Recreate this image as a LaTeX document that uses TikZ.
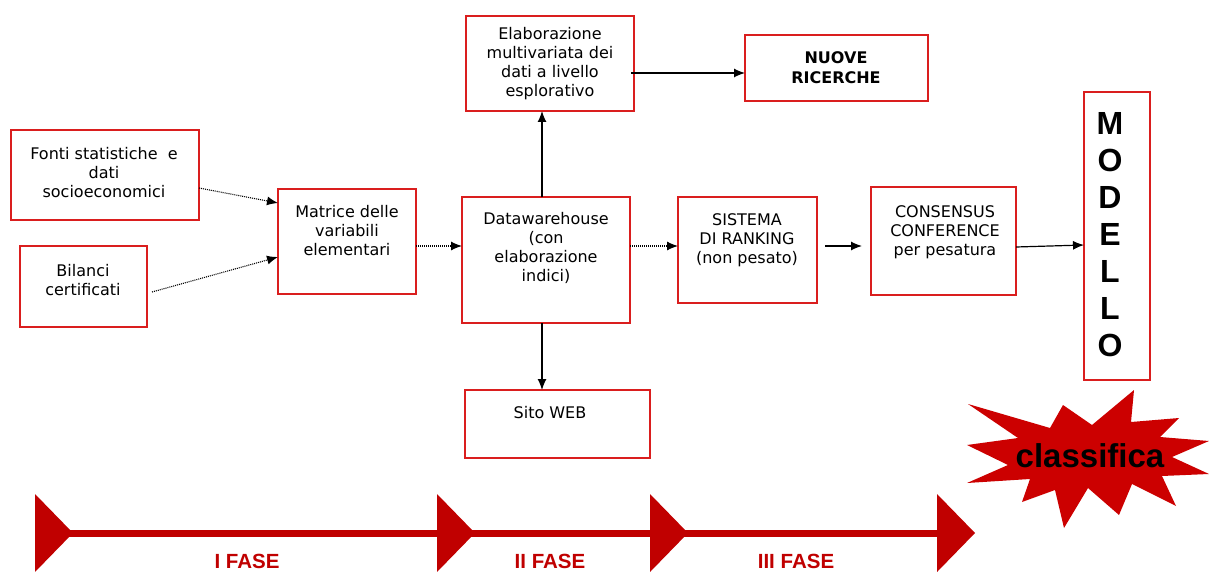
\documentclass[tikz,border=0pt]{standalone}
\usepackage{fontspec}
\setmainfont{DejaVu Sans}
\newfontfamily\arialfont{Liberation Sans}
\usetikzlibrary{arrows.meta}
\definecolor{boxred}{RGB}{218,30,30}
\definecolor{tred}{RGB}{192,0,0}
\definecolor{sred}{RGB}{204,0,0}
\begin{document}
\begin{tikzpicture}[x=1pt,y=-1pt,
  box/.style={draw=boxred,line width=1.3pt,inner sep=0pt,outer sep=0pt},
  txt/.style={inner sep=0pt,align=center,font=\fontsize{16}{19}\selectfont},
  btxt/.style={inner sep=0pt,align=center,font=\fontsize{16}{20}\selectfont\bfseries},
  conn/.style={line width=1.2pt,-{Latex[length=11pt,width=9pt]}},
  dconn/.style={line width=1.1pt,dash pattern=on 1pt off 1pt,-{Latex[length=11pt,width=9pt]}},
  phase/.style={anchor=base,inner sep=0pt,text=tred,font=\arialfont\fontsize{20.5}{22}\selectfont\bfseries}]
\useasboundingbox (0,0) rectangle (1209,572);
% boxes
\node[box,minimum width=188pt,minimum height=90pt] (fonti) at (105,175) {};
\node[box,minimum width=127pt,minimum height=81pt] (bilanci) at (83.5,286.5) {};
\node[box,minimum width=138pt,minimum height=105pt] (matrice) at (347,241.5) {};
\node[box,minimum width=168pt,minimum height=126pt] (dw) at (546,260) {};
\node[box,minimum width=168pt,minimum height=95pt] (elab) at (550,63.5) {};
\node[box,minimum width=183pt,minimum height=66pt] (nuove) at (836.5,68) {};
\node[box,minimum width=185pt,minimum height=68pt] (sito) at (557.5,424) {};
\node[box,minimum width=139pt,minimum height=106pt] (sistema) at (747.5,250) {};
\node[box,minimum width=145pt,minimum height=108pt] (consensus) at (943.5,241) {};
\node[box,minimum width=66pt,minimum height=288pt] (modello) at (1117,236) {};
% texts
\node[txt] (fontiT) at (104,173) {Fonti statistiche\ \ e\\dati\\socioeconomici};
\node[txt] (bilanciT) at (83,280) {Bilanci\\certificati};
\node[txt] (matriceT) at (347,231) {Matrice delle\\variabili\\elementari};
\node[txt] (dwT) at (546,247.5) {Datawarehouse\\(con\\elaborazione\\indici)};
\node[txt] (elabT) at (550,64) {Elaborazione\\multivariata dei\\dati a livello\\esplorativo};
\node[btxt] (nuoveT) at (836,68) {NUOVE\\RICERCHE};
\node[txt] (sitoT) at (550,413) {Sito WEB};
\node[txt] (sistemaT) at (747,240) {SISTEMA\\DI RANKING\\(non pesato)};
\node[txt] (consensusT) at (945,232) {CONSENSUS\\CONFERENCE\\per pesatura};
\node[inner sep=0pt,align=center,font=\arialfont\fontsize{32}{37}\selectfont\bfseries] (modelloT) at (1110,234.5) {M\\O\\D\\E\\L\\L\\O};
% connectors
\draw[dconn] ([yshift=-13pt]fonti.east) -- ([yshift=38.5pt]matrice.west);
\draw[dconn] ([xshift=5pt,yshift=-5.5pt]bilanci.east) -- ([yshift=-15.5pt]matrice.west);
\draw[dconn] ([yshift=-4.5pt]matrice.east) -- ([yshift=-4.5pt]matrice.east -| dw.west);
\draw[conn] ([xshift=-4pt]dw.north) -- ([xshift=-4pt]dw.north |- elab.south);
\draw[conn] ([xshift=-4pt]dw.south) -- ([xshift=-4pt]dw.south |- sito.north);
\draw[conn] ([yshift=-9.5pt,xshift=-3pt]elab.east) -- ([yshift=-9.5pt]elab.east -| nuove.west);
\draw[dconn] ([yshift=14pt]dw.east) -- ([yshift=14pt]dw.east -| sistema.west);
\draw[conn] ([xshift=8pt,yshift=4pt]sistema.east) -- ([xshift=-9pt,yshift=4pt]sistema.east -| consensus.west);
\draw[conn] ([yshift=-6pt]consensus.east) -- ([yshift=-9pt]modello.west);
% starburst
\fill[sred] (968,404) -- (1050,428) -- (1063,405) -- (1092,425) -- (1134,390) -- (1131,422)
  -- (1179,418) -- (1160,437) -- (1209,441) -- (1172,457) -- (1209,474) -- (1162,476)
  -- (1176,506) -- (1132,484) -- (1119,515) -- (1088,488) -- (1064,528) -- (1055,490)
  -- (1022,502) -- (1030,479) -- (967,483) -- (1008,465) -- (967,445) -- (1018,438) -- cycle;
\node[anchor=base,inner sep=0pt,font=\arialfont\fontsize{33}{36}\selectfont\bfseries] (classifica) at (1090,467) {classifica};
% timeline
\fill[tred] (35,529.5) rectangle (960,536.5);
\foreach \x in {35,437,650,937} \fill[tred] (\x,494) -- (\x+38,533) -- (\x,572) -- cycle;
\node[phase] (fase1) at (247,568) {I FASE};
\node[phase] (fase2) at (550,568) {II FASE};
\node[phase] (fase3) at (796,568) {III FASE};
\end{tikzpicture}
\end{document}
